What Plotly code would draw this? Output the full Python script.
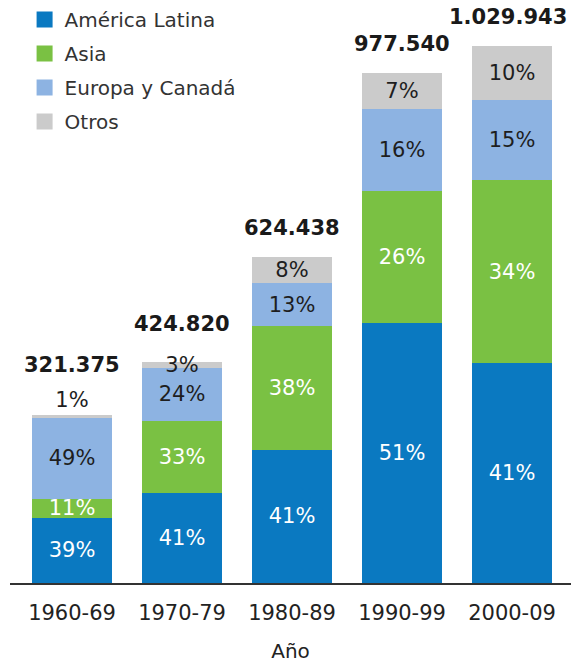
import plotly.graph_objects as go

# ---- data ----
decades = ["1960-69", "1970-79", "1980-89", "1990-99", "2000-09"]
totals = [321375, 424820, 624438, 977540, 1029943]
pct_america = [39, 41, 41, 51, 41]
pct_asia = [11, 33, 38, 26, 34]
pct_europa = [49, 24, 13, 16, 15]
pct_otros = [1, 3, 8, 7, 10]
series_names = ["América Latina", "Asia", "Europa y Canadá", "Otros"]

# ---- styles ----
colors = ["#0A79C1", "#7AC143", "#8DB3E2", "#CBCBCB"]
text_colors = ["#FFFFFF", "#FFFFFF", "#1E1E1E", "#1E1E1E"]
FONT = "DejaVu Sans"
total_label_yshift = [50, 38, 29, 29, 29]  # px above bar top (label centre)
total_label_xshift = [0, 0, 0, 0, -4]
otros_positions = ["outside", "inside", "inside", "inside", "inside"]

pcts = [pct_america, pct_asia, pct_europa, pct_otros]
sums = [sum(p[i] for p in pcts) for i in range(len(decades))]

fig = go.Figure()
for k, (name, pc) in enumerate(zip(series_names, pcts)):
    vals = [totals[i] * pc[i] / sums[i] for i in range(len(decades))]
    fig.add_trace(go.Bar(
        x=decades, y=vals, name=name, showlegend=False,
        marker=dict(color=colors[k], line=dict(width=0)),
        text=[f"{v}%" for v in pc],
        textposition=otros_positions if k == 3 else "inside",
        insidetextanchor="middle",
        constraintext="none",
        cliponaxis=False,
        textfont=dict(family=FONT, size=21, color=text_colors[k]),
        hoverinfo="skip",
    ))
    # legend proxy with a larger square symbol
    fig.add_trace(go.Scatter(
        x=[None], y=[None], mode="markers", name=name,
        legendgroup=name,
        marker=dict(symbol="square", size=16, color=colors[k]),
        showlegend=True,
    ))

for i, d in enumerate(decades):
    fig.add_annotation(
        x=d, y=totals[i], xref="x", yref="y",
        text=f"{totals[i]:,}".replace(",", "."),
        showarrow=False, yanchor="middle",
        yshift=total_label_yshift[i], xshift=total_label_xshift[i],
        font=dict(family=FONT, size=21, color="#1A1A1A", weight="bold"),
    )

ymax = max(totals) * 583 / 537

fig.update_layout(
    width=571, height=664,
    margin=dict(l=10, r=0, t=0, b=81),
    paper_bgcolor="white", plot_bgcolor="white",
    barmode="stack", bargap=0.28,
    font=dict(family=FONT, size=20, color="#222222"),
    legend=dict(
        x=0.026, y=1, xanchor="left", yanchor="top",
        font=dict(family=FONT, size=20, color="#333333"),
        tracegroupgap=5, bgcolor="rgba(0,0,0,0)",
        traceorder="grouped",
    ),
    xaxis=dict(
        type="category", range=[-0.5636, 4.536],
        showline=True, linecolor="#333333", linewidth=2,
        ticks="", showgrid=False, ticklabelstandoff=10,
        tickfont=dict(family=FONT, size=21, color="#222222"),
        title=dict(text="Año", font=dict(family=FONT, size=20, color="#222222"), standoff=20),
    ),
    yaxis=dict(visible=False, range=[0, ymax], showgrid=False, zeroline=False),
)

fig.write_html(
    "out.html",
    config={"displayModeBar": False},
    post_script="document.body.style.margin='0';",
)
